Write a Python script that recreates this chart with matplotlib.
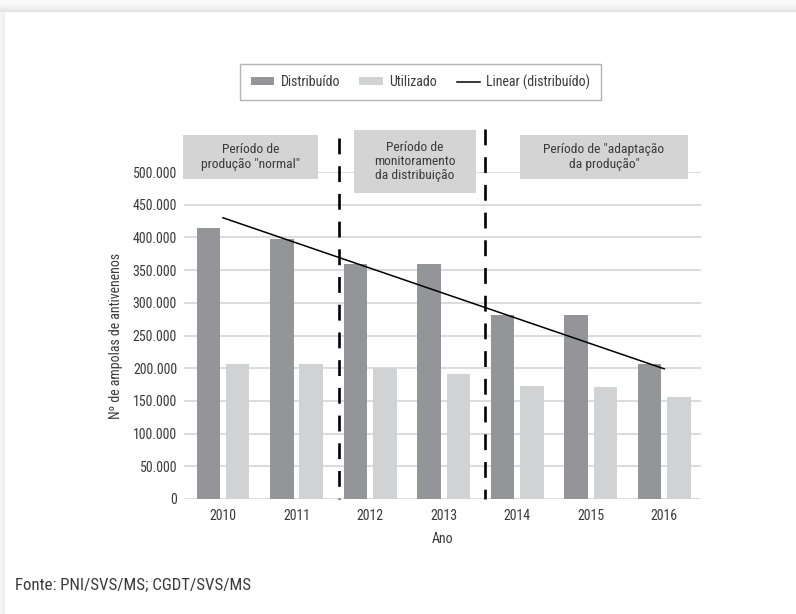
import matplotlib
matplotlib.use('Agg')
import matplotlib.pyplot as plt
from matplotlib.patches import Rectangle, Patch
from matplotlib.lines import Line2D
from matplotlib import font_manager
import numpy as np

# Data
anos = ['2010', '2011', '2012', '2013', '2014', '2015', '2016']
distribuido = [414000, 398000, 360000, 360000, 282000, 282000, 206000]
utilizado = [207000, 207000, 200000, 191000, 173000, 171000, 156000]
tendencia = [430000, 199000]   # trend line values at 2010 and 2016
periodos = ['Período de\nprodução "normal"',
            'Período de\nmonitoramento\nda distribuição',
            'Período de "adaptação\nda produção"']
yticks = list(range(0, 500001, 50000))

W, H = 796, 614
# prefer a condensed face if one is installed
installed = {f.name for f in font_manager.fontManager.ttflist}
narrow = [n for n in ['Liberation Sans Narrow', 'Roboto Condensed', 'Open Sans Condensed',
                      'DejaVu Sans Condensed'] if n in installed]
if narrow:
    plt.rcParams['font.family'] = [narrow[0], 'DejaVu Sans']
    fs = 10
else:
    plt.rcParams['font.family'] = ['Liberation Sans', 'DejaVu Sans']
    fs = 9.5
plt.rcParams['font.size'] = fs
txt = '#3a3a3a'

fig = plt.figure(figsize=(W / 100, H / 100), dpi=100)

def fx(px):
    return px / W

def fy(py):
    return 1 - py / H

# card shadow along the top and left edges
bg = np.ones((H, W, 3))
for r in range(12):
    bg[r, :, :] = 0.98 - 0.09 * (r / 11) ** 2
for c in range(5):
    bg[12:, c, :] = 0.97 - 0.03 * (c / 4)
fig.figimage(bg, 0, 0, origin='upper', zorder=-1)

ax = fig.add_axes([fx(184), fy(499), 517 / W, 327 / H])
ax.patch.set_alpha(0)
x = np.arange(len(anos))
ax.bar(x - 0.2, distribuido, 0.32, color='#939598', zorder=2)
ax.bar(x + 0.2, utilizado, 0.32, color='#d1d2d4', zorder=2)
ax.plot([x[0], x[-1]], tendencia, color='black', lw=1.1, zorder=4)

# period separators, drawn top-down so each starts with a full dash
for xv, top in [(1.575, 552000), (3.565, 566000)]:
    ax.plot([xv, xv], [top, 0], color='black', lw=1.9, ls=(0, (6, 4.5)),
            clip_on=False, zorder=5)

ax.set_xlim(-0.53, 6.5)
ax.set_ylim(0, 500000)
ax.set_yticks(yticks)
ax.set_yticklabels([f'{v:,}'.replace(',', '.') for v in yticks])
ax.set_xticks(x)
ax.set_xticklabels(anos)
ax.grid(axis='y', color='#d9d9d9', lw=1.3, zorder=0)
ax.set_axisbelow(True)
for s in ax.spines.values():
    s.set_visible(False)
ax.tick_params(axis='y', length=0, pad=5, colors=txt)
ax.tick_params(axis='x', length=0, pad=7, colors=txt)
ax.set_ylabel('Nº de ampolas de antivenenos', color=txt, labelpad=7)
ax.set_xlabel('Ano', color=txt, labelpad=7)

# period boxes
boxes = [(183, 135, 318, 179), (354, 130, 476, 193), (520, 135, 688, 179)]
for (x0, y0, x1, y1), label in zip(boxes, periodos):
    fig.patches.append(Rectangle((fx(x0), fy(y1)), (x1 - x0) / W, (y1 - y0) / H,
                                 transform=fig.transFigure, facecolor='#d4d4d4',
                                 edgecolor='none', zorder=3))
    fig.text(fx((x0 + x1) / 2), fy((y0 + y1) / 2), label, ha='center', va='center',
             fontsize=fs * 0.97, linespacing=1.1, color=txt, zorder=4)

handles = [Patch(facecolor='#939598', label='Distribuído'),
           Patch(facecolor='#d1d2d4', label='Utilizado'),
           Line2D([], [], color='black', lw=1.1, label='Linear (distribuído)')]
leg = fig.legend(handles=handles, loc='center', bbox_to_anchor=(fx(420.5), fy(82)),
                 ncol=3, frameon=True, fancybox=False, edgecolor='#a0a0a0',
                 handlelength=1.7, handleheight=0.5, handletextpad=0.45,
                 columnspacing=1.4, borderpad=0.75, labelcolor=txt)
leg.get_frame().set_linewidth(1.0)

fig.text(fx(15), fy(585), 'Fonte: PNI/SVS/MS; CGDT/SVS/MS', va='center',
         fontsize=fs * 1.22, color=txt)

fig.savefig('out.png', dpi=100)
